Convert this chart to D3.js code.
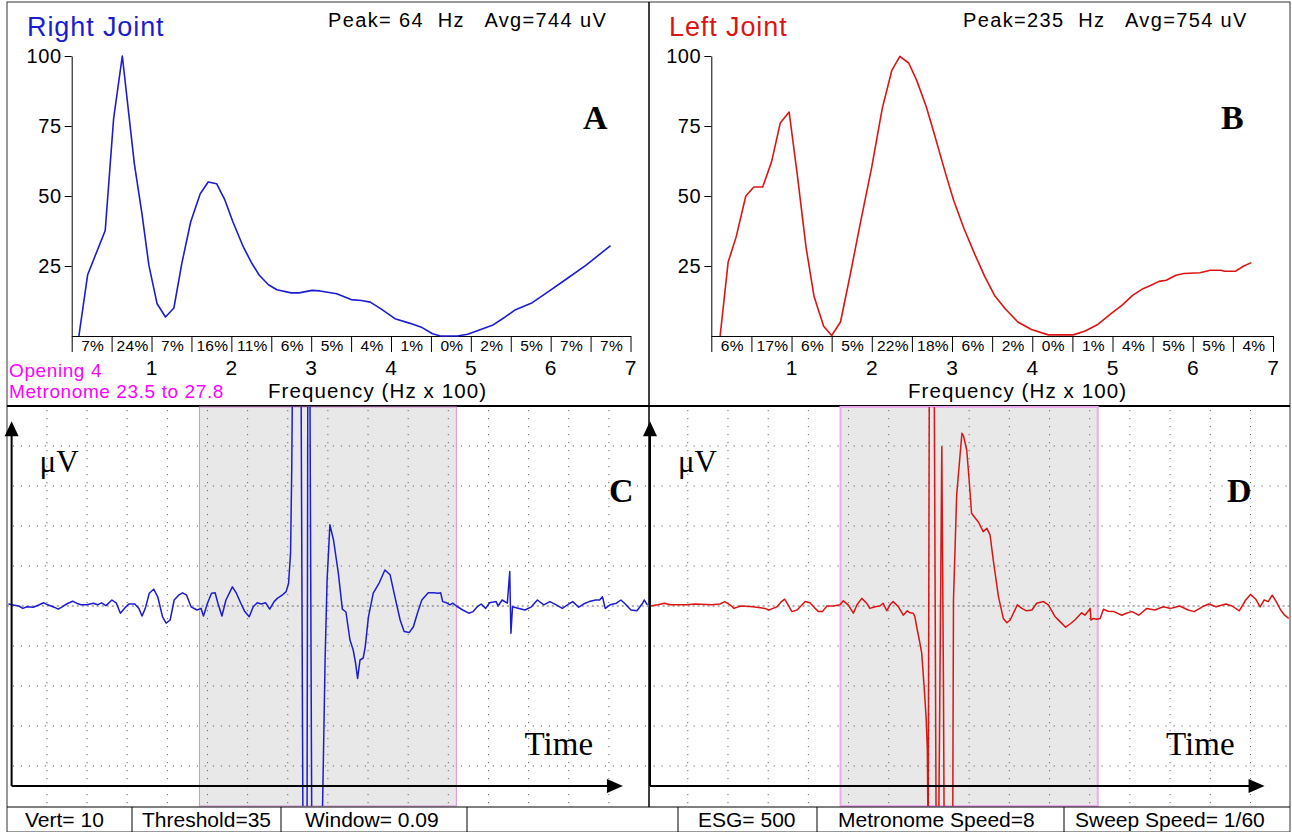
<!DOCTYPE html>
<html>
<head>
<meta charset="utf-8">
<script src="https://cdn.jsdelivr.net/npm/d3@7/dist/d3.min.js"></script>
<style>
  body { margin: 0; background: #fff; }
  svg { display: block; }
  text { white-space: pre; }
</style>
</head>
<body>
<svg id="chart" width="1292" height="832"></svg>
<script>
// ---- data ----
const freqTicks = [1, 2, 3, 4, 5, 6, 7];
const ampTicks = [25, 50, 75, 100];
const bandEdges = [0, 0.5, 1, 1.5, 2, 2.5, 3, 3.5, 4, 4.5, 5, 5.5, 6, 6.5, 7];
const rightBands = ['7%', '24%', '7%', '16%', '11%', '6%', '5%', '4%', '1%', '0%', '2%', '5%', '7%', '7%'];
const leftBands = ['6%', '17%', '6%', '5%', '22%', '18%', '6%', '2%', '0%', '1%', '4%', '5%', '5%', '4%'];

// [frequency (Hz x 100), relative amplitude]
const rightSpectrum = [[0.09,0],[0.20,21.9],[0.42,37.7],[0.525,77.6],[0.634,100],[0.785,61.5],[0.88,43.7],
  [0.967,25.2],[1.07,11.5],[1.175,6.8],[1.28,10],[1.38,26],[1.49,40.7],[1.61,50.8],[1.71,55],[1.815,54.4],
  [1.92,48.5],[2.02,40.7],[2.15,31.8],[2.26,25.8],[2.35,21.7],[2.465,18.3],[2.57,16.5],[2.75,15.4],[2.85,15.4],
  [3.01,16.3],[3.11,16.1],[3.32,15.1],[3.50,13],[3.63,12.7],[3.74,12.1],[3.87,9.8],[4.05,6.2],[4.23,4.6],
  [4.39,3],[4.52,0.8],[4.62,0],[4.83,0],[4.96,0.6],[5.09,2],[5.27,3.8],[5.43,6.8],[5.56,9.4],[5.77,11.9],
  [5.98,16],[6.18,20],[6.44,25.2],[6.75,32.3]];
const leftSpectrum = [[0.11,0],[0.21,26.4],[0.31,35.4],[0.43,50],[0.53,53.2],[0.64,53.2],[0.75,62.1],[0.86,76.1],
  [0.97,80],[1.07,58],[1.18,31.8],[1.28,14.2],[1.40,3.5],[1.50,0.2],[1.61,5],[1.73,21.7],[1.86,40.7],[2.0,60.4],
  [2.13,81.2],[2.25,94.9],[2.35,99.9],[2.46,97.5],[2.56,91.3],[2.68,81.8],[2.79,71.1],[2.92,58],[3.02,48.5],
  [3.15,38.3],[3.28,29.4],[3.41,21.1],[3.53,14.5],[3.66,9.8],[3.82,5],[3.99,2.3],[4.2,0.4],[4.51,0.4],[4.66,1.8],
  [4.81,4],[4.97,7.7],[5.12,11],[5.25,14.5],[5.38,16.9],[5.48,18.1],[5.58,19.5],[5.67,19.9],[5.79,21.7],
  [5.89,22.3],[6.09,22.6],[6.22,23.5],[6.35,23.5],[6.4,23.1],[6.53,23.1],[6.63,24.9],[6.73,26.2]];

// [time (grid divisions), signal (grid divisions)]
const rightTrace = [[0.04,0.05],[0.12,0.03],[0.30,0],[0.40,-0.06],[0.50,-0.02],[0.66,-0.03],[0.81,0.03],[0.92,0.08],
  [1.02,0.03],[1.18,-0.03],[1.28,-0.08],[1.38,-0.02],[1.49,0.05],[1.64,0.12],[1.74,0.07],[1.85,0.03],[2.00,0.03],
  [2.16,0.07],[2.26,0.03],[2.36,0.08],[2.47,0.01],[2.62,0.15],[2.73,0.07],[2.83,-0.18],[2.93,-0.06],[3.04,0.05],
  [3.19,0.05],[3.29,-0.06],[3.37,-0.25],[3.45,-0.06],[3.55,0.32],[3.66,0.42],[3.76,0.23],[3.88,-0.27],[3.97,-0.43],
  [4.07,-0.35],[4.17,0.15],[4.28,0.27],[4.38,0.33],[4.48,0.27],[4.59,-0.02],[4.74,-0.10],[4.84,-0.06],[4.90,-0.25],
  [5.00,0.07],[5.10,0.32],[5.19,0.33],[5.26,0.07],[5.36,-0.25],[5.46,0.15],[5.62,0.48],[5.72,0.32],[5.83,0.07],
  [5.93,-0.14],[6.04,-0.27],[6.14,-0.02],[6.24,0.08],[6.34,0.05],[6.45,0.08],[6.55,-0.08],[6.66,0.11],[6.74,0.19],
  [6.86,0.27],[6.96,0.36],[7.02,0.57],[7.07,1.32],[7.10,3.48],[7.12,6],[7.33,6],[7.38,-6],[7.48,-6],[7.50,6],
  [7.55,6],[7.60,-6],[7.85,-6],[7.93,-1.35],[7.98,0.65],[8.05,2.03],[8.14,1.65],[8.26,0.82],[8.36,-0.08],
  [8.45,-0.15],[8.55,-0.85],[8.63,-1.10],[8.69,-1.43],[8.74,-1.81],[8.80,-1.35],[8.88,-1.30],[8.93,-1.02],
  [9.01,-0.27],[9.13,0.32],[9.28,0.58],[9.42,0.90],[9.55,0.78],[9.67,0.23],[9.80,-0.35],[9.90,-0.64],[10.03,-0.66],
  [10.13,-0.52],[10.23,-0.18],[10.34,0.15],[10.50,0.33],[10.63,0.33],[10.75,0.32],[10.81,0.33],[10.86,0.11],
  [10.96,0.08],[11.04,0.03],[11.11,0.07],[11.20,0],[11.36,-0.10],[11.51,-0.18],[11.62,-0.14],[11.72,-0.02],
  [11.82,0.05],[11.93,-0.06],[12.03,0.08],[12.19,0.11],[12.24,0],[12.34,0.15],[12.47,0.07],[12.53,0.86],
  [12.56,-0.68],[12.60,-0.02],[12.76,-0.06],[12.91,-0.10],[13.07,-0.02],[13.22,0.15],[13.38,0.03],[13.53,0.11],
  [13.69,0.03],[13.84,-0.06],[14.00,0.05],[14.10,0.11],[14.25,-0.03],[14.41,0.07],[14.51,0.11],[14.67,0.15],
  [14.77,0.15],[14.84,0.23],[14.91,-0.06],[15.03,0.03],[15.19,0.07],[15.30,0.15],[15.39,0.07],[15.55,-0.10],
  [15.70,-0.12],[15.84,0.07],[15.88,0.15],[15.96,0.03]];
const leftTrace = [[0.06,0],[0.26,0.03],[0.42,0.07],[0.57,0.03],[0.98,0.03],[1.18,0.05],[1.59,0.03],[1.80,0.05],
  [1.92,0.11],[2.05,0.03],[2.15,-0.06],[2.31,0],[2.62,-0.02],[2.92,-0.06],[3.02,-0.10],[3.12,-0.06],[3.22,-0.02],
  [3.33,0.11],[3.41,0.17],[3.47,0.07],[3.59,-0.14],[3.72,-0.10],[3.92,0.11],[4.04,0.08],[4.17,-0.06],[4.25,-0.14],
  [4.35,-0.14],[4.46,0],[4.62,0],[4.79,0.03],[4.87,0.13],[4.99,0.03],[5.12,-0.18],[5.21,0.03],[5.33,0.19],
  [5.45,0.07],[5.53,-0.06],[5.66,-0.02],[5.78,0],[5.86,0.07],[5.95,-0.12],[6.03,0.03],[6.11,0.11],[6.24,-0.02],
  [6.36,-0.23],[6.46,-0.12],[6.53,-0.17],[6.61,-0.18],[6.65,-0.27],[6.70,-0.55],[6.76,-0.85],[6.82,-1.18],
  [6.88,-2.02],[6.93,-2.80],[6.96,-3.60],[6.98,-6],[7.01,6],[7.13,6],[7.18,-6],[7.24,-6],[7.32,3.98],[7.36,-1.85],
  [7.38,-6],[7.59,-6],[7.61,0.15],[7.69,2.78],[7.82,4.32],[7.86,4.25],[7.94,3.9],[8.00,3.15],[8.06,2.32],
  [8.15,2.2],[8.23,2.1],[8.35,1.86],[8.44,1.94],[8.52,1.78],[8.60,1.15],[8.73,0.23],[8.85,-0.31],[8.94,-0.42],
  [9.02,-0.35],[9.20,0.03],[9.31,-0.06],[9.43,-0.12],[9.56,-0.10],[9.68,0.07],[9.85,0.11],[9.97,0.03],
  [10.14,-0.27],[10.26,-0.39],[10.40,-0.53],[10.51,-0.45],[10.63,-0.35],[10.80,-0.17],[10.88,-0.23],[10.97,-0.12],
  [11.01,-0.06],[11.03,-0.35],[11.09,-0.31],[11.17,-0.33],[11.26,-0.31],[11.34,-0.08],[11.46,-0.13],[11.60,-0.14],
  [11.80,-0.23],[11.91,-0.18],[12.05,-0.14],[12.22,-0.23],[12.42,-0.06],[12.62,-0.10],[12.83,-0.02],[13.02,-0.06],
  [13.24,0],[13.45,-0.10],[13.60,-0.14],[13.80,-0.02],[13.96,0.05],[14.14,-0.02],[14.39,0.05],[14.54,0],
  [14.72,-0.12],[14.88,0.15],[15.00,0.29],[15.13,0.17],[15.24,-0.02],[15.34,0.15],[15.44,0.11],[15.54,0.27],
  [15.64,0.11],[15.75,-0.10],[15.85,-0.23],[15.95,-0.31]];

const gridCols = [1, 2, 3, 4, 5, 6, 7, 8, 9, 10, 11, 12, 13, 14, 15];
const gridRows = [-4, -3, -2, -1, 1, 2, 3, 4];
const windowSpan = [4.8, 11.2];
const statusItems = [
  {label: 'Vert= 10', x: 25}, {label: 'Threshold=35', x: 142}, {label: 'Window= 0.09', x: 305},
  {label: 'ESG= 500', x: 698}, {label: 'Metronome Speed=8', x: 838}, {label: 'Sweep Speed= 1/60', x: 1075}];
const statusDividers = [132, 281, 467, 678, 817, 1064];

const BLUE = '#1c1cd0', RED = '#dc1414';
const SANS = '"Liberation Sans", Arial, sans-serif';
const SERIF = '"Liberation Serif", "DejaVu Serif", serif';

const svg = d3.select('#chart');

// frame
svg.append('rect').attr('x', 7).attr('y', 2).attr('width', 1283).attr('height', 830)
  .attr('fill', 'none').attr('stroke', '#333').attr('stroke-width', 1);
svg.append('line').attr('x1', 649).attr('x2', 649).attr('y1', 2).attr('y2', 807)
  .attr('stroke', '#000').attr('stroke-width', 1.5);
svg.append('line').attr('x1', 7).attr('x2', 1290).attr('y1', 406).attr('y2', 406)
  .attr('stroke', '#000').attr('stroke-width', 2);

// ---- spectrum panels ----
function drawSpectrum(opts) {
  const x = d3.scaleLinear().domain([0, 7]).range(opts.xRange);
  const y = d3.scaleLinear().domain([0, 100]).range([336, 56]);
  const g = svg.append('g');

  // y axis
  const ya = g.append('g')
    .attr('transform', 'translate(' + opts.xRange[0] + ',0)')
    .call(d3.axisLeft(y).tickValues(ampTicks).tickSize(7).tickSizeOuter(0).tickPadding(3));
  ya.selectAll('text').attr('font-family', SANS).attr('font-size', 20).attr('fill', '#000')
    .attr('letter-spacing', 0.6);
  ya.selectAll('line, path').attr('stroke', '#000');

  // band dividers + baseline
  const xa = g.append('g')
    .attr('transform', 'translate(0,336)')
    .call(d3.axisBottom(x).tickValues(bandEdges).tickSize(16).tickSizeOuter(0).tickFormat(''));
  xa.selectAll('line, path').attr('stroke', '#000');

  // band percentages
  g.selectAll('.band')
    .data(opts.bands)
    .enter()
    .append('text')
    .attr('x', (d, i) => (x(bandEdges[i]) + x(bandEdges[i + 1])) / 2 + 1)
    .attr('y', 351)
    .attr('text-anchor', 'middle')
    .attr('font-family', SANS).attr('font-size', 15.5).attr('letter-spacing', 0.3)
    .text(d => d);

  // frequency numbers
  g.selectAll('.ftick')
    .data(freqTicks)
    .enter()
    .append('text')
    .attr('x', d => x(d))
    .attr('y', 375)
    .attr('text-anchor', 'middle')
    .attr('font-family', SANS).attr('font-size', 21)
    .text(d => d);

  g.append('text').attr('x', opts.freqLabelX).attr('y', 398)
    .attr('font-family', SANS).attr('font-size', 20.5).attr('letter-spacing', 1.1)
    .text('Frequency (Hz x 100)');

  // spectrum line
  g.append('path')
    .datum(opts.data)
    .attr('fill', 'none')
    .attr('stroke', opts.color)
    .attr('stroke-width', 1.6)
    .attr('stroke-linejoin', 'round')
    .attr('d', d3.line().x(d => x(d[0])).y(d => y(d[1])));

  // titles
  g.append('text').attr('x', opts.titleX).attr('y', 36)
    .attr('font-family', SANS).attr('font-size', 27).attr('fill', opts.color).attr('letter-spacing', 0.9)
    .text(opts.title);
  g.append('text').attr('x', opts.peakX).attr('y', 27)
    .attr('font-family', SANS).attr('font-size', 20).attr('letter-spacing', 1.35)
    .text(opts.peak);
  g.append('text').attr('x', opts.letterX).attr('y', 129)
    .attr('font-family', SERIF).attr('font-weight', 'bold').attr('font-size', 34)
    .text(opts.letter);
}

drawSpectrum({data: rightSpectrum, bands: rightBands, color: BLUE, xRange: [71.7, 630.5],
  title: 'Right Joint', titleX: 27, peak: 'Peak= 64  Hz   Avg=744 uV', peakX: 328,
  letter: 'A', letterX: 583, freqLabelX: 268});
drawSpectrum({data: leftSpectrum, bands: leftBands, color: RED, xRange: [711.3, 1273],
  title: 'Left Joint', titleX: 669, peak: 'Peak=235  Hz   Avg=754 uV', peakX: 963,
  letter: 'B', letterX: 1221, freqLabelX: 908});

svg.append('text').attr('x', 9).attr('y', 377)
  .attr('font-family', SANS).attr('font-size', 19).attr('fill', '#ff00ff').attr('letter-spacing', 0.6)
  .text('Opening 4');
svg.append('text').attr('x', 9).attr('y', 398)
  .attr('font-family', SANS).attr('font-size', 19).attr('fill', '#ff00ff').attr('letter-spacing', 0.6)
  .text('Metronome 23.5 to 27.8');

// ---- waveform panels ----
const vScale = d3.scaleLinear().domain([-5, 5]).range([806, 406]);

function drawTrace(opts) {
  const x = d3.scaleLinear().domain([0, 16]).range(opts.xRange);
  const y = vScale;
  const g = svg.append('g');

  g.append('clipPath').attr('id', opts.id)
    .append('rect')
    .attr('x', opts.xRange[0]).attr('y', y(5) + 1)
    .attr('width', opts.xRange[1] - opts.xRange[0]).attr('height', y(-5) - y(5) - 1);

  // metronome window
  g.append('rect')
    .attr('x', x(windowSpan[0])).attr('y', y(5) + 1)
    .attr('width', x(windowSpan[1]) - x(windowSpan[0])).attr('height', y(-5) - y(5) - 1)
    .attr('fill', '#e8e8e8')
    .attr('stroke', opts.windowStroke).attr('stroke-width', opts.windowStrokeWidth);

  // dotted grid
  g.selectAll('.vgrid')
    .data(gridCols)
    .enter()
    .append('line')
    .attr('x1', d => x(d)).attr('x2', d => x(d))
    .attr('y1', y(5) + 4).attr('y2', y(-5))
    .attr('stroke', '#666').attr('stroke-width', 1).attr('stroke-dasharray', '1.2,6.8');
  g.selectAll('.hgrid')
    .data(gridRows)
    .enter()
    .append('line')
    .attr('x1', x(0) + 6).attr('x2', x(16))
    .attr('y1', d => y(d)).attr('y2', d => y(d))
    .attr('stroke', '#666').attr('stroke-width', 1).attr('stroke-dasharray', '1.2,6.8');
  g.append('line')
    .attr('x1', x(0)).attr('x2', x(16))
    .attr('y1', y(0)).attr('y2', y(0))
    .attr('stroke', '#666').attr('stroke-width', 1).attr('stroke-dasharray', '2,3');

  // trace
  g.append('path')
    .datum(opts.data)
    .attr('clip-path', 'url(#' + opts.id + ')')
    .attr('fill', 'none')
    .attr('stroke', opts.color)
    .attr('stroke-width', 1.5)
    .attr('stroke-linejoin', 'round')
    .attr('d', d3.line().x(d => x(d[0])).y(d => y(d[1])));

  // arrow axes
  const ox = x(opts.axisT), oy = y(-4.5), top = y(4.62), end = x(15.35);
  g.append('line').attr('x1', ox).attr('x2', ox).attr('y1', oy).attr('y2', top + 10)
    .attr('stroke', '#000').attr('stroke-width', 2);
  g.append('line').attr('x1', ox).attr('x2', end - 10).attr('y1', oy).attr('y2', oy)
    .attr('stroke', '#000').attr('stroke-width', 2);
  g.append('path').attr('d', 'M' + ox + ',' + top + 'l-7,15h14z').attr('fill', '#000');
  g.append('path').attr('d', 'M' + end + ',' + oy + 'l-16,-7v14z').attr('fill', '#000');

  g.append('text').attr('x', x(opts.axisT) + 28).attr('y', 472)
    .attr('font-family', SERIF).attr('font-size', 31)
    .text('\u03BCV');
  g.append('text').attr('x', x(12.9)).attr('y', 755)
    .attr('font-family', SERIF).attr('font-size', 33)
    .text('Time');
  g.append('text').attr('x', opts.letterX).attr('y', 502)
    .attr('font-family', SERIF).attr('font-weight', 'bold').attr('font-size', 34)
    .text(opts.letter);
}

drawTrace({id: 'clipC', data: rightTrace, color: BLUE, xRange: [6.8, 649], axisT: 0.12,
  windowStroke: '#d890d8', windowStrokeWidth: 1, letter: 'C', letterX: 609});
drawTrace({id: 'clipD', data: leftTrace, color: RED, xRange: [647.6, 1290.7], axisT: 0.06,
  windowStroke: '#eeaaee', windowStrokeWidth: 2, letter: 'D', letterX: 1227});

// ---- status bar ----
svg.append('line').attr('x1', 7).attr('x2', 1290).attr('y1', 807).attr('y2', 807)
  .attr('stroke', '#000').attr('stroke-width', 1);
svg.selectAll('.sdiv')
  .data(statusDividers)
  .enter()
  .append('line')
  .attr('x1', d => d).attr('x2', d => d)
  .attr('y1', 807).attr('y2', 832)
  .attr('stroke', '#000').attr('stroke-width', 1);
svg.selectAll('.stext')
  .data(statusItems)
  .enter()
  .append('text')
  .attr('x', d => d.x)
  .attr('y', 827)
  .attr('font-family', '"Liberation Sans Narrow", "Liberation Sans", sans-serif')
  .attr('font-size', 21)
  .text(d => d.label);
</script>
</body>
</html>
